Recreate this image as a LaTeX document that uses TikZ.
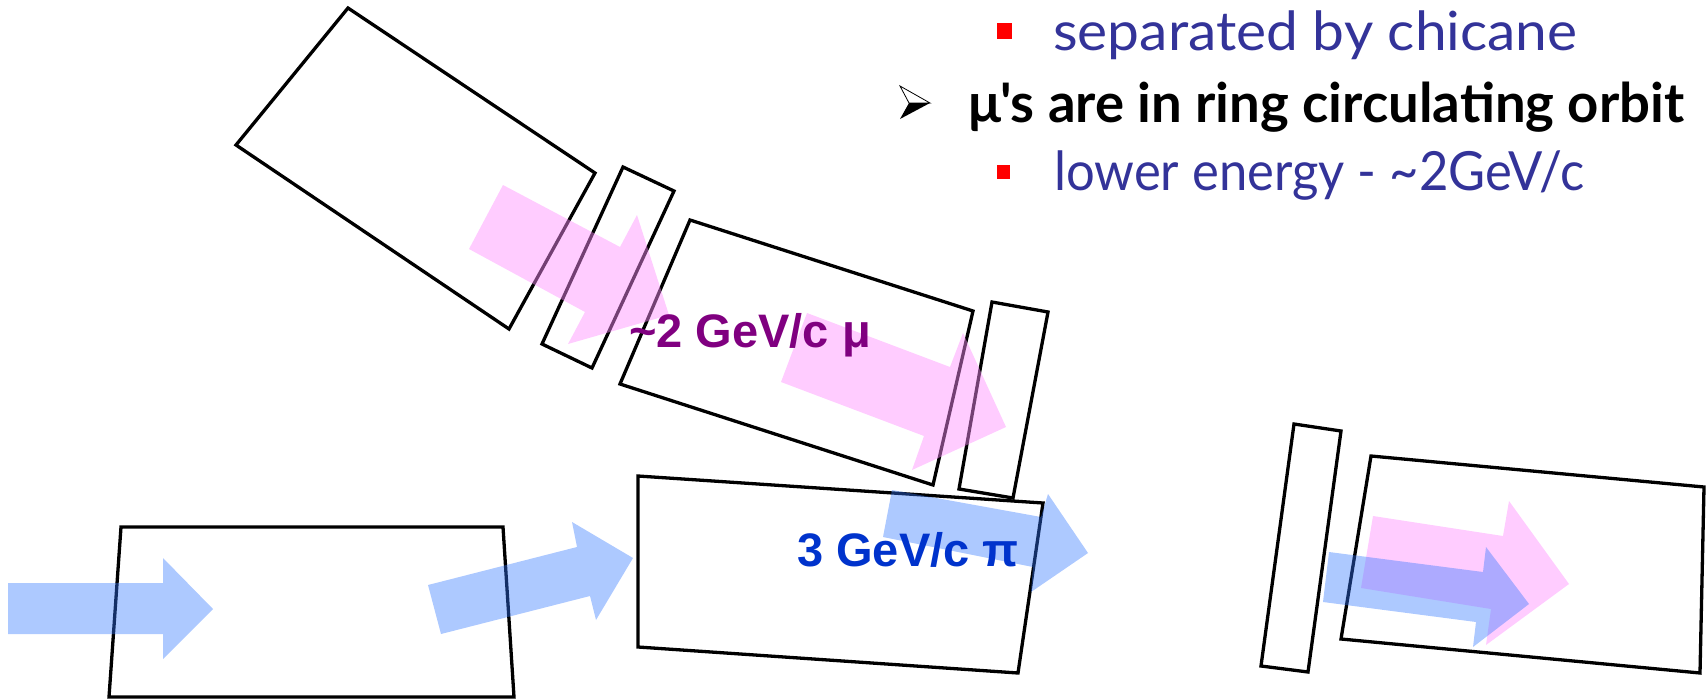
\documentclass[tikz,border=0pt]{standalone}
\usepackage{fontspec}
\setmainfont{Liberation Sans}
\newfontfamily\notefont{Lato}
\newfontfamily\notewidefont[FakeStretch=1.053]{Lato}
\newfontfamily\notenarrowfont[FakeStretch=0.94]{Lato}
\definecolor{notecol}{HTML}{333399}
\definecolor{picol}{HTML}{0033CC}
\definecolor{mucol}{HTML}{800080}
\definecolor{piarrowcol}{HTML}{3377FF}
\definecolor{muarrowcol}{HTML}{FF8FFF}
\tikzset{
  magnet/.style={draw=black,line width=3.3pt,line join=miter},
  piarrow/.style={fill=piarrowcol,fill opacity=0.4},
  muarrow/.style={fill=muarrowcol,fill opacity=0.45},
  beamlabel/.style={anchor=base west,inner sep=0pt,font=\fontsize{47}{56.4}\selectfont\bfseries},
  notetext/.style={anchor=base west,inner sep=0pt,text=notecol},
  noteboldtext/.style={anchor=base west,inner sep=0pt,font=\fontsize{54.5}{65.4}\selectfont\notefont\bfseries},
  redbullet/.style={fill=red}
}
\begin{document}
\begin{tikzpicture}[x=1pt,y=-1pt]
\path[use as bounding box] (0,0) rectangle (1706,699);
% magnets
\draw[magnet] (348,8) -- (595,173) -- (509,329) -- (236,145) -- cycle;
\draw[magnet] (623,167) -- (674,191) -- (592,368) -- (542,344) -- cycle;
\draw[magnet] (690,220) -- (973,311) -- (933,485) -- (620,384) -- cycle;
\draw[magnet] (992,302) -- (1048,312) -- (1013,498) -- (959,489) -- cycle;
\draw[magnet] (638,476) -- (1043,503) -- (1018,673) -- (638,647) -- cycle;
\draw[magnet] (121,527) -- (503,527) -- (514,697) -- (109,697) -- cycle;
\draw[magnet] (1294,424) -- (1341,431) -- (1308,672) -- (1261,666) -- cycle;
\draw[magnet] (1371,456) -- (1704,487) -- (1700,673) -- (1341,639) -- cycle;
% muon arrows
\path[muarrow] (503,185) -- (620,247) -- (637,215) -- (669,315) -- (568,344) -- (585,312) -- (469,249) -- cycle;
\path[muarrow] (807,313) -- (950,367) -- (963,333) -- (1006,427) -- (912,470) -- (924,436) -- (781,382) -- cycle;
\path[muarrow] (1373,516) -- (1503,536) -- (1509,501) -- (1569,584) -- (1486,645) -- (1491,609) -- (1361,588) -- cycle;
% pion arrows
\path[piarrow] (8,583) -- (163,583) -- (163,558) -- (213,609) -- (163,659) -- (163,634) -- (8,634) -- cycle;
\path[piarrow] (428,585) -- (577,547) -- (572,522) -- (633,558) -- (596,620) -- (590,596) -- (441,634) -- cycle;
\path[piarrow] (892,490) -- (1041,517) -- (1048,494) -- (1088,553) -- (1031,592) -- (1033,567) -- (883,537) -- cycle;
\path[piarrow] (1329,552) -- (1483,572) -- (1486,547) -- (1529,604) -- (1473,647) -- (1476,622) -- (1323,602) -- cycle;
% beam labels
\node[beamlabel,text=mucol] (mulabel) at (629,347) {\textasciitilde2 GeV/c μ};
\node[beamlabel,text=picol] (pilabel) at (797,566) {3 GeV/c π};
% notes
\fill[redbullet] (997,23) rectangle (1012,39);
\node[notetext,font=\fontsize{54}{64.8}\selectfont\notewidefont] (chicane) at (1053,50) {separated by chicane};
\fill[white] (900,86) -- (930,103) -- (909,103) -- cycle;
\draw[line width=0.8pt] (900,86) -- (930,103) -- (909,103) -- cycle;
\fill[black] (900,119) -- (930,103) -- (909,103) -- cycle;
\node[noteboldtext] (orbit) at (968,122) {μ's are in ring circulating orbit};
\fill[redbullet] (997,165) rectangle (1010,179);
\node[notetext,font=\fontsize{54}{64.8}\selectfont\notenarrowfont] (energy) at (1054,190) {lower energy - \textasciitilde2GeV/c};
\end{tikzpicture}
\end{document}
